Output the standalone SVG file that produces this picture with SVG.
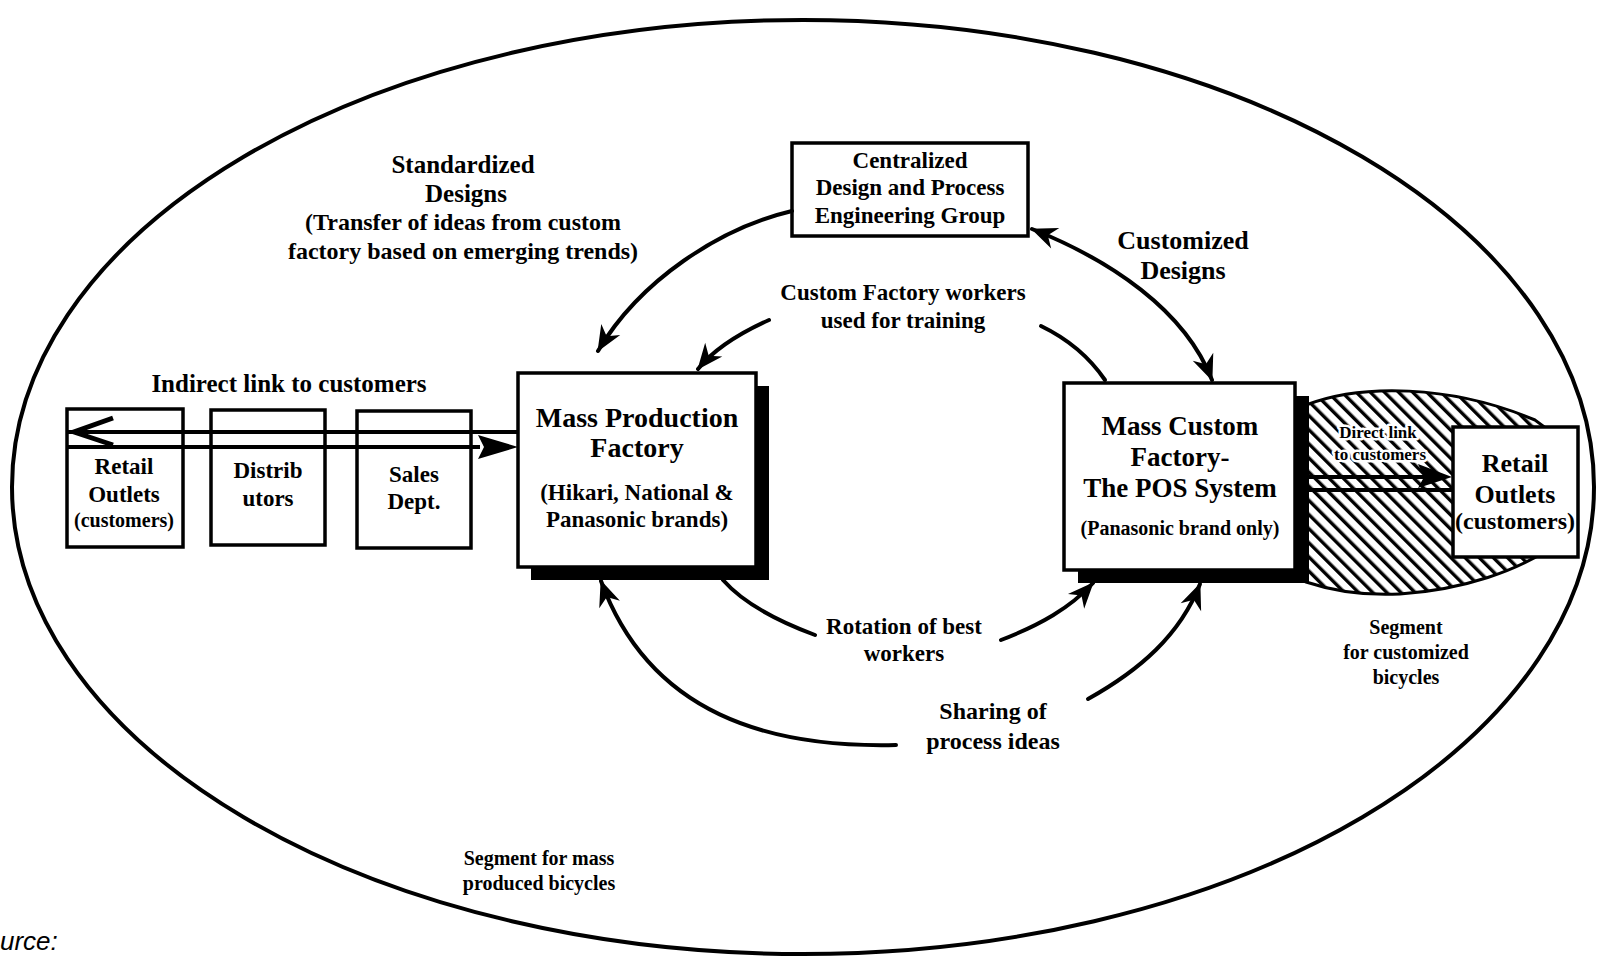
<svg xmlns="http://www.w3.org/2000/svg" width="1597" height="956" viewBox="0 0 1597 956">
<style>
text{font-family:"Liberation Serif","Times New Roman",serif;font-weight:bold;fill:#000;text-anchor:middle}
.box{fill:#fff;stroke:#000;stroke-width:3.5}
.shadow{fill:#000}
.con{fill:none;stroke:#000;stroke-width:4;stroke-linecap:round}
.dl{fill:none;stroke:#000;stroke-width:4}
.halo{stroke:#fff;stroke-width:5;paint-order:stroke;stroke-linejoin:round}
.src{font-family:"Liberation Sans",Arial,sans-serif;font-style:italic;font-weight:normal;text-anchor:start}
</style>
<defs>
<marker id="ah" markerUnits="userSpaceOnUse" markerWidth="30" markerHeight="26" viewBox="-27 -13 29 26" refX="0" refY="0" orient="auto-start-reverse">
<path d="M1,0 L-25,-11 L-17,0 L-25,11 Z" fill="#000"/>
</marker>
<pattern id="hatch" patternUnits="userSpaceOnUse" width="10" height="10" patternTransform="rotate(-45)">
<rect x="0" y="0" width="3.4" height="10" fill="#000"/>
</pattern>
</defs>
<rect width="1597" height="956" fill="#fff"/>

<g id="segment-mass">
<ellipse cx="803" cy="487" rx="791" ry="467" fill="none" stroke="#000" stroke-width="4"/>
<text x="539" y="865" font-size="20">Segment for mass</text>
<text x="539" y="890" font-size="20">produced bicycles</text>
</g>

<g id="segment-custom">
<path d="M1306,405 C1360,384 1450,384 1535,420 L1562,440 L1562,540 C1520,572 1460,590 1400,594 C1360,596 1330,590 1306,582 Z" fill="url(#hatch)" stroke="#000" stroke-width="3"/>
<text x="1406" y="634" font-size="20">Segment</text>
<text x="1406" y="659" font-size="20">for customized</text>
<text x="1406" y="684" font-size="20">bicycles</text>
</g>

<g id="label-standardized">
<text x="463" y="173" font-size="25">Standardized</text>
<text x="466" y="202" font-size="25">Designs</text>
<text x="463" y="230" font-size="24">(Transfer of ideas from custom</text>
<text x="463" y="259" font-size="24">factory based on emerging trends)</text>
</g>

<g id="node-centralized">
<rect class="box" x="792" y="143" width="236" height="93"/>
<text x="910" y="168" font-size="23">Centralized</text>
<text x="910" y="195" font-size="23">Design and Process</text>
<text x="910" y="223" font-size="23">Engineering Group</text>
</g>

<g id="label-customized">
<text x="1183" y="249" font-size="26">Customized</text>
<text x="1183" y="279" font-size="26">Designs</text>
</g>

<g id="label-training">
<text x="903" y="300" font-size="23">Custom Factory workers</text>
<text x="903" y="328" font-size="23">used for training</text>
</g>

<g id="label-indirect">
<text x="289" y="392" font-size="25">Indirect link to customers</text>
</g>

<g id="node-retail-left">
<rect class="box" x="67" y="409" width="116" height="138"/>
<text x="124" y="474" font-size="23">Retail</text>
<text x="124" y="502" font-size="23">Outlets</text>
<text x="124" y="527" font-size="20">(customers)</text>
</g>

<g id="node-distributors">
<rect class="box" x="211" y="410" width="114" height="135"/>
<text x="268" y="478" font-size="23">Distrib</text>
<text x="268" y="506" font-size="23">utors</text>
</g>

<g id="node-sales">
<rect class="box" x="357" y="411" width="114" height="137"/>
<text x="414" y="482" font-size="23">Sales</text>
<text x="414" y="509" font-size="23">Dept.</text>
</g>

<g id="node-mass-production">
<rect class="shadow" x="531" y="386" width="238" height="194"/>
<rect class="box" x="518" y="373" width="238" height="194"/>
<text x="637" y="427" font-size="28">Mass Production</text>
<text x="637" y="457" font-size="28">Factory</text>
<text x="637" y="500" font-size="23">(Hikari, National &amp;</text>
<text x="637" y="527" font-size="23">Panasonic brands)</text>
</g>

<g id="node-mass-custom">
<rect class="shadow" x="1078" y="396" width="231" height="187"/>
<rect class="box" x="1064" y="383" width="231" height="187"/>
<text x="1180" y="435" font-size="27">Mass Custom</text>
<text x="1180" y="466" font-size="27">Factory-</text>
<text x="1180" y="497" font-size="27">The POS System</text>
<text x="1180" y="535" font-size="20">(Panasonic brand only)</text>
</g>

<g id="node-retail-right">
<rect class="box" x="1453" y="427" width="125" height="130"/>
<text x="1515" y="472" font-size="26">Retail</text>
<text x="1515" y="503" font-size="26">Outlets</text>
<text x="1515" y="529" font-size="24">(customers)</text>
</g>

<g id="label-direct">
<text class="halo" x="1378" y="438" font-size="17">Direct link</text>
<text class="halo" x="1380" y="460" font-size="17">to customers</text>
</g>

<g id="label-rotation">
<text x="904" y="634" font-size="23">Rotation of best</text>
<text x="904" y="661" font-size="23">workers</text>
</g>

<g id="label-sharing">
<text x="993" y="719" font-size="24">Sharing of</text>
<text x="993" y="749" font-size="24">process ideas</text>
</g>

<g id="connectors">
<path class="con" d="M792,211 C720,228 640,280 598,351" marker-end="url(#ah)"/>
<path class="con" d="M769,320 C740,333 715,348 698,369" marker-end="url(#ah)"/>
<path class="con" d="M1041,326 C1070,340 1090,358 1105,380"/>
<path class="con" d="M1032,229 C1110,260 1185,310 1212,380" marker-start="url(#ah)" marker-end="url(#ah)"/>
<path class="con" d="M723,580 C745,605 780,622 815,635"/>
<path class="con" d="M1001,640 C1040,625 1070,608 1093,583" marker-end="url(#ah)"/>
<path class="con" d="M896,745 C770,748 650,715 601,581" marker-end="url(#ah)"/>
<path class="con" d="M1088,699 C1140,670 1180,635 1200,584" marker-end="url(#ah)"/>
<line class="dl" x1="68" y1="432" x2="518" y2="432"/>
<line class="dl" x1="68" y1="447" x2="480" y2="447"/>
<polyline points="113,418 74,432 113,445" fill="none" stroke="#000" stroke-width="5" stroke-linejoin="miter"/>
<polygon points="518,447 478,435 484,447 478,459" fill="#000"/>
<line class="dl" x1="1309" y1="477" x2="1430" y2="477"/>
<line class="dl" x1="1309" y1="490" x2="1453" y2="490"/>
<polygon points="1452,477 1418,464 1424,477 1418,488" fill="#000"/>
</g>

<text class="src" x="0" y="950" font-size="26">urce:</text>
</svg>
